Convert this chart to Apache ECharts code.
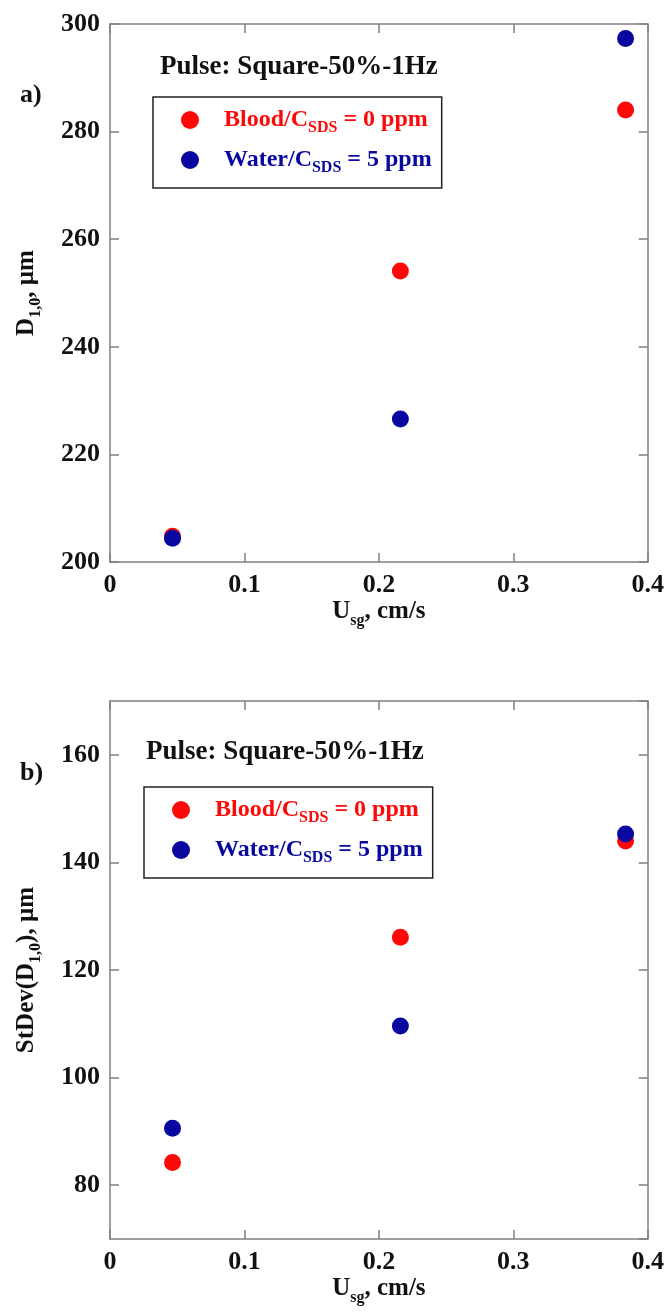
<!DOCTYPE html>
<html>
<head>
<meta charset="utf-8">
<script src="https://cdn.jsdelivr.net/npm/echarts@6/dist/echarts.min.js"></script>
<style>
html,body{margin:0;padding:0;background:#fff;}
#chart{width:667px;height:1314px;}
</style>
</head>
<body>
<div id="chart"></div>
<script>
// ---- data ----
var usg = [0.0465, 0.216, 0.3835];
var bloodD10 = [204.8, 254.1, 284.0];
var waterD10 = [204.4, 226.6, 297.3];
var bloodSD = [84.2, 126.1, 144.0];
var waterSD = [90.6, 109.6, 145.3];
var seriesNames = ['Blood', 'Water'];
var titleText = 'Pulse: Square-50%-1Hz';

function pairs(xs, ys){ return xs.map(function(x,i){ return [x, ys[i]]; }); }

var FONT = 'Liberation Serif';
var RED = '#ff0808';
var BLUE = '#0808a0';
var AX = '#808080';

var richBase = {
  n: {fontFamily: FONT, fontWeight: 'bold', fontSize: 25, color: '#111', verticalAlign: 'middle', lineHeight: 34},
  s: {fontFamily: FONT, fontWeight: 'bold', fontSize: 16, color: '#111', verticalAlign: 'bottom', lineHeight: 34}
};

function xAxes(gi){
  var lbl = {fontFamily: FONT, fontWeight: 'bold', fontSize: 26, color: '#111', margin: 10};
  var line = {onZero: false, lineStyle: {color: AX, width: 1.5}};
  var tick = {inside: true, length: 9, lineStyle: {color: AX, width: 1.5}};
  return [
    {gridIndex: gi, type: 'value', min: 0, max: 0.4, interval: 0.1, position: 'bottom',
     axisLine: line, axisTick: tick, axisLabel: lbl, splitLine: {show: false},
     name: '{n|U}{s|sg}{n|, cm/s}', nameLocation: 'middle', nameGap: 32,
     nameTextStyle: {rich: richBase}},
    {gridIndex: gi, type: 'value', min: 0, max: 0.4, interval: 0.1, position: 'top',
     axisLine: line, axisTick: tick, axisLabel: {show: false}, splitLine: {show: false}}
  ];
}

function yAxes(gi, opts){
  var lbl = {fontFamily: FONT, fontWeight: 'bold', fontSize: 26, color: '#111', margin: 10,
             showMinLabel: opts.showMin, showMaxLabel: opts.showMax};
  var line = {show: true, onZero: false, lineStyle: {color: AX, width: 1.5}};
  var tick = {show: true, inside: true, length: 9, lineStyle: {color: AX, width: 1.5}};
  var a = {gridIndex: gi, type: 'value', min: opts.min, max: opts.max, position: 'left',
     axisLine: line, axisTick: tick, axisLabel: lbl, splitLine: {show: false},
     name: opts.name, nameLocation: 'middle', nameGap: opts.nameGap, nameRotate: 90,
     nameTextStyle: {rich: richBase}};
  var b = {gridIndex: gi, type: 'value', min: opts.min, max: opts.max, position: 'right',
     axisLine: line, axisTick: tick, axisLabel: {show: false}, splitLine: {show: false}};
  if (opts.interval) { a.interval = opts.interval; b.interval = opts.interval; }
  return [a, b];
}

var ya = yAxes(0, {min: 200, max: 300, interval: 20, showMin: true, showMax: true, name: '{n|D}{s|1,0}{n|, µm}', nameGap: 66});
var yb = yAxes(1, {min: 70, max: 170, showMin: false, showMax: false, name: '{n|StDev(D}{s|1,0}{n|), µm}', nameGap: 66});

var legendRich = {
  rb: {fontFamily: FONT, fontWeight: 'bold', fontSize: 24, color: RED, verticalAlign: 'middle', lineHeight: 32},
  rs: {fontFamily: FONT, fontWeight: 'bold', fontSize: 16, color: RED, verticalAlign: 'bottom', lineHeight: 32},
  rp: {fontFamily: FONT, fontWeight: 'bold', fontSize: 24, color: RED, verticalAlign: 'middle', lineHeight: 32, padding: [0,0,0,20]},
  bb: {fontFamily: FONT, fontWeight: 'bold', fontSize: 24, color: BLUE, verticalAlign: 'middle', lineHeight: 32},
  bs: {fontFamily: FONT, fontWeight: 'bold', fontSize: 16, color: BLUE, verticalAlign: 'bottom', lineHeight: 32},
  bp: {fontFamily: FONT, fontWeight: 'bold', fontSize: 24, color: BLUE, verticalAlign: 'middle', lineHeight: 32, padding: [0,0,0,20]}
};
function legendFmt(name){
  if (name === 'Blood') return '{rp|Blood/C}{rs|SDS}{rb| = 0 ppm}';
  return '{bp|Water/C}{bs|SDS}{bb| = 5 ppm}';
}
function legend(left, top){
  return {orient: 'vertical', left: left, top: top, data: seriesNames,
    icon: 'circle', itemWidth: 18, itemHeight: 18, itemGap: 12,
    borderColor: '#222', borderWidth: 1.5, padding: [11, 10, 12, 28],
    formatter: legendFmt, textStyle: {rich: legendRich}, selectedMode: false};
}

var titleStyle = {fontFamily: FONT, fontWeight: 'bold', fontSize: 27, color: '#111'};

var option = {
  backgroundColor: '#ffffff',
  animation: false,
  title: [
    {text: titleText, left: 160, top: 54, textStyle: titleStyle, padding: 0},
    {text: titleText, left: 146, top: 739, textStyle: titleStyle, padding: 0}
  ],
  legend: [legend(153, 97), legend(144, 787)],
  grid: [
    {left: 110, right: 18, top: 24, height: 538, show: false},
    {left: 110, right: 18, top: 701, height: 538, show: false}
  ],
  xAxis: xAxes(0).concat(xAxes(1)),
  yAxis: ya.concat(yb),
  graphic: [
    {type: 'text', left: 20, top: 82, style: {text: 'a)', fontFamily: FONT, fontWeight: 'bold', fontSize: 26, fill: '#111'}},
    {type: 'text', left: 20, top: 760, style: {text: 'b)', fontFamily: FONT, fontWeight: 'bold', fontSize: 26, fill: '#111'}}
  ],
  series: [
    {name: 'Blood', type: 'scatter', xAxisIndex: 0, yAxisIndex: 0, data: pairs(usg, bloodD10), symbolSize: 17, itemStyle: {color: RED, opacity: 1}},
    {name: 'Water', type: 'scatter', xAxisIndex: 0, yAxisIndex: 0, data: pairs(usg, waterD10), symbolSize: 17, itemStyle: {color: BLUE, opacity: 1}},
    {name: 'Blood', type: 'scatter', xAxisIndex: 2, yAxisIndex: 2, data: pairs(usg, bloodSD), symbolSize: 17, itemStyle: {color: RED, opacity: 1}},
    {name: 'Water', type: 'scatter', xAxisIndex: 2, yAxisIndex: 2, data: pairs(usg, waterSD), symbolSize: 17, itemStyle: {color: BLUE, opacity: 1}}
  ]
};

var chart = echarts.init(document.getElementById('chart'), null, {renderer: 'canvas'});
chart.setOption(option);
</script>
</body>
</html>
